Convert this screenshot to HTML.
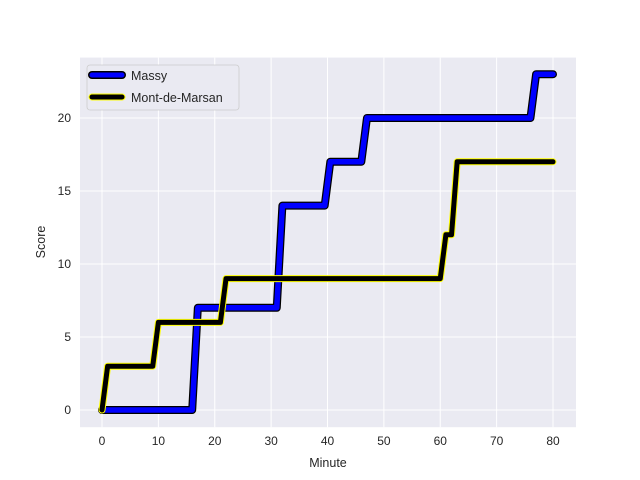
<!DOCTYPE html>
<html><head><meta charset="utf-8"><style>body{margin:0;background:#fff}svg{display:block;font-family:"Liberation Sans","DejaVu Sans",sans-serif}</style></head>
<body>
<svg id="chart" width="640" height="480" xmlns="http://www.w3.org/2000/svg">
<rect x="80" y="57.6" width="496" height="369.6" fill="#eaeaf2"/>
<g id="grid"></g><g id="ticks"></g><g id="lines"></g>
<text x="328" y="467" font-size="12.5" text-anchor="middle" fill="#262626">Minute</text>
<text transform="translate(45,242) rotate(-90)" font-size="12.5" text-anchor="middle" fill="#262626">Score</text>
<g>
<rect x="87" y="65" width="152" height="45" rx="3" fill="#eaeaf2" stroke="#cccccc" stroke-width="0.8"/>
<g>
<line x1="92" y1="75" x2="122" y2="75" stroke="#000" stroke-width="8" stroke-linecap="round"/>
<line x1="92" y1="75" x2="122" y2="75" stroke="#0000ff" stroke-width="5" stroke-linecap="round"/>
<text x="131" y="80" font-size="12.5" fill="#262626">Massy</text></g>
<g>
<line x1="92" y1="97" x2="122" y2="97" stroke="#ffff00" stroke-width="7" stroke-linecap="round"/>
<line x1="92" y1="97" x2="122" y2="97" stroke="#000" stroke-width="5" stroke-linecap="round"/>
<text x="131" y="102" font-size="12.5" fill="#262626">Mont-de-Marsan</text></g>
</g>
</svg>
<script>
const xTicks=[0,10,20,30,40,50,60,70,80];
const yTicks=[0,5,10,15,20];
const massyMin=[0,16,17,31,32,39.5,40.5,46,47,76,77,80];
const massyScore=[0,0,7,7,14,14,17,17,20,20,23,23];
const montMin=[0,1,9,10,21,22,60,61,62,63,80];
const montScore=[0,3,3,6,6,9,9,12,12,17,17];
const X=v=>102+v*(553-102)/80;
const Y=v=>410-v*(410-118)/20;
const ns="http://www.w3.org/2000/svg";
function mk(p,t,a){const e=document.createElementNS(ns,t);for(const k in a)e.setAttribute(k,a[k]);p.appendChild(e);return e;}
const grid=document.getElementById('grid'),ticks=document.getElementById('ticks'),lines=document.getElementById('lines');
xTicks.forEach(t=>{
const l=mk(grid,'line',{x1:X(t),x2:X(t),y1:57.6,y2:427.2,stroke:'#fff','stroke-width':1});


const s=mk(ticks,'text',{x:X(t),y:445,'font-size':12,'text-anchor':'middle',fill:'#262626'});s.textContent=t;


});
yTicks.forEach(t=>{
const l=mk(grid,'line',{x1:80,x2:576,y1:Y(t),y2:Y(t),stroke:'#fff','stroke-width':1});


const s=mk(ticks,'text',{x:71,y:Y(t)+4,'font-size':12,'text-anchor':'end',fill:'#262626'});s.textContent=t;


});
function pts(xs,ys){return xs.map((x,i)=>X(x)+','+Y(ys[i])).join(' ');}
function series(name,xs,ys,outer,ow,inner,iw){
const g=mk(lines,'g',{});


mk(g,'polyline',{points:pts(xs,ys),fill:'none',stroke:outer,'stroke-width':ow,'stroke-linejoin':'round','stroke-linecap':'round'});
mk(g,'polyline',{points:pts(xs,ys),fill:'none',stroke:inner,'stroke-width':iw,'stroke-linejoin':'round','stroke-linecap':'round'});
}
series('massy-line',massyMin,massyScore,'#000',8,'#0000ff',5.5);
series('mont-de-marsan-line',montMin,montScore,'#ffff00',7,'#000',5);
</script>
</body></html>
